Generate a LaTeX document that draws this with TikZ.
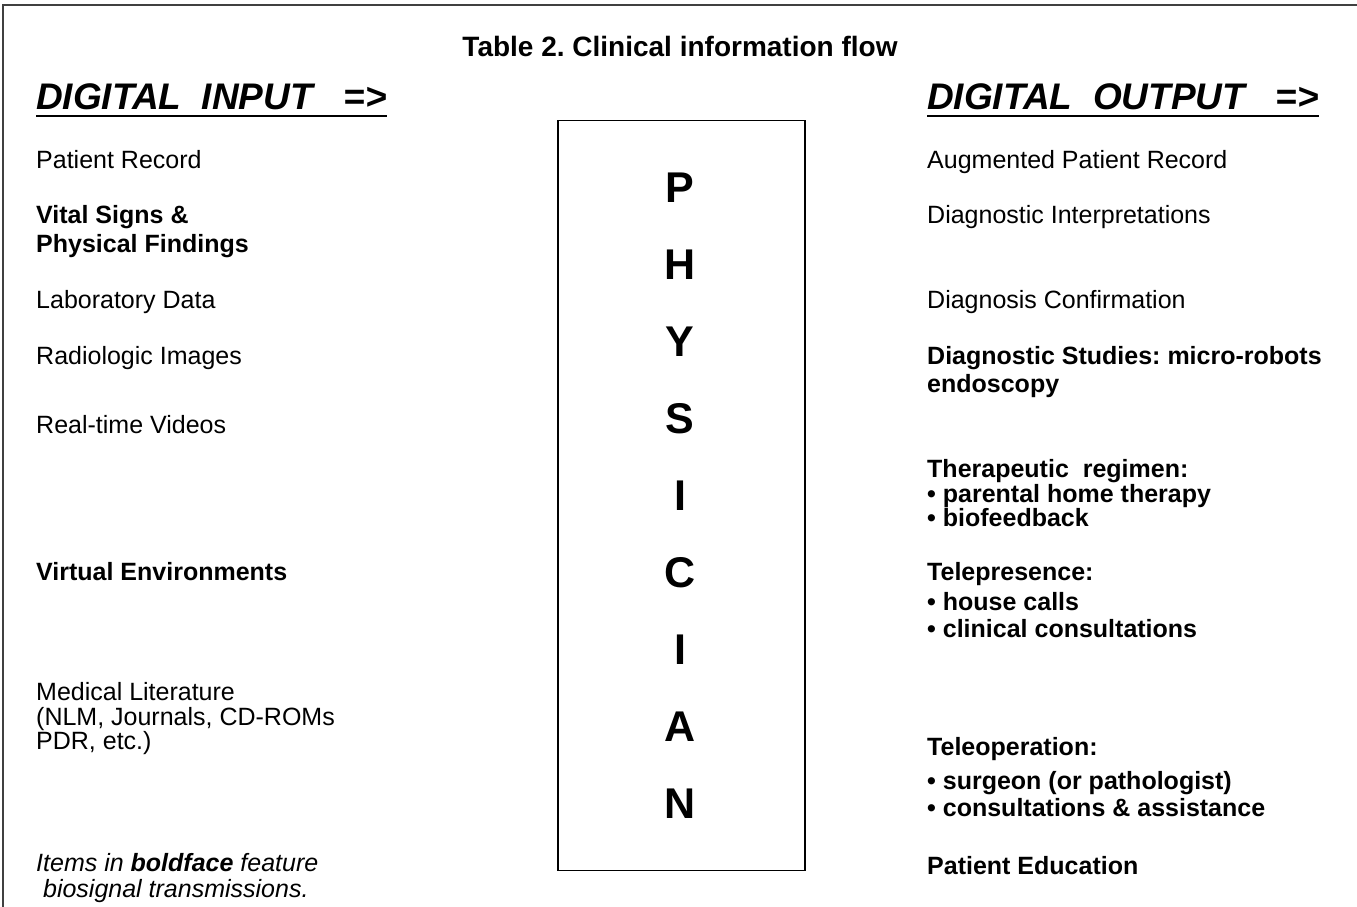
\documentclass[tikz,border=0pt]{standalone}
\usepackage{fontspec}
\setmainfont{Liberation Sans}
\frenchspacing
\begin{document}
\begin{tikzpicture}[x=1pt,y=-1pt,
  txt/.style={anchor=base west, inner sep=0pt, font=\fontsize{25}{30}\selectfont},
  btxt/.style={anchor=base west, inner sep=0pt, font=\fontsize{25}{30}\selectfont\bfseries},
  itxt/.style={anchor=base west, inner sep=0pt, font=\fontsize{25}{30}\selectfont\itshape},
  head/.style={anchor=base west, inner sep=0pt, font=\fontsize{37}{40}\selectfont\bfseries\itshape},
  letter/.style={anchor=center, inner sep=0pt, font=\fontsize{43}{43}\selectfont\bfseries},
  frame/.style={line width=1.5pt, black!75},
  uline/.style={line width=2pt}]
\useasboundingbox (0,0) rectangle (1357,907);

% outer frame (left and top edges)
\draw[frame] (3,907) -- (3,5) -- (1357,5);

% title
\node[anchor=base, inner sep=0pt, font=\fontsize{28}{30}\selectfont\bfseries] (title) at (680,57) {Table 2. Clinical information flow};

% column headings
\node[head] (hin) at (36,110) {DIGITAL\ \ INPUT\ \ \ =>};
\node[head] (hout) at (927,110) {DIGITAL\ \ OUTPUT\ \ \ =>};
\draw[uline] ([yshift=-6pt]hin.base west) -- ([yshift=-6pt]hin.base east);
\draw[uline] ([yshift=-6pt]hout.base west) -- ([yshift=-6pt]hout.base east);

% central box
\node[draw, line width=1.5pt, inner sep=0pt, minimum width=247pt, minimum height=750pt] (phys) at (681.4,495.7) {};
\foreach \ch [count=\i from 0] in {P,H,Y,S,I,C,I,A,N}
  \node[letter] (l\i) at (680,188+77*\i) {\ch};

% inputs
\node[txt]  (in1)  at (36,168) {Patient Record};
\node[btxt] (in2a) at (36,223) {Vital Signs \&};
\node[btxt] (in2b) at (36,252) {Physical Findings};
\node[txt]  (in3)  at (36,308) {Laboratory Data};
\node[txt]  (in4)  at (36,364) {Radiologic Images};
\node[txt]  (in5)  at (36,433) {Real-time Videos};
\node[btxt] (in6)  at (36,580) {Virtual Environments};
\node[txt]  (in7a) at (36,700) {Medical Literature};
\node[txt]  (in7b) at (36,725) {(NLM, Journals, CD-ROMs};
\node[txt]  (in7c) at (36,749) {PDR, etc.)};
\node[itxt] (note1) at (36,871) {Items in \textbf{boldface} feature};
\node[itxt] (note2) at (36,897) {\ biosignal transmissions.};

% outputs
\node[txt]  (out1)  at (927,168) {Augmented Patient Record};
\node[txt]  (out2)  at (927,223) {Diagnostic Interpretations};
\node[txt]  (out3)  at (927,308) {Diagnosis Confirmation};
\node[btxt] (out4a) at (927,364) {Diagnostic Studies: micro-robots};
\node[btxt] (out4b) at (927,392) {endoscopy};
\node[btxt] (out5a) at (927,477) {Therapeutic\ \ regimen:};
\node[btxt] (out5b) at (927,502) {• parental home therapy};
\node[btxt] (out5c) at (927,526) {• biofeedback};
\node[btxt] (out6a) at (927,580) {Telepresence:};
\node[btxt] (out6b) at (927,610) {• house calls};
\node[btxt] (out6c) at (927,637) {• clinical consultations};
\node[btxt] (out7a) at (927,755) {Teleoperation:};
\node[btxt] (out7b) at (927,789) {• surgeon (or pathologist)};
\node[btxt] (out7c) at (927,816) {• consultations \& assistance};
\node[btxt] (out8)  at (927,874) {Patient Education};
\end{tikzpicture}
\end{document}
